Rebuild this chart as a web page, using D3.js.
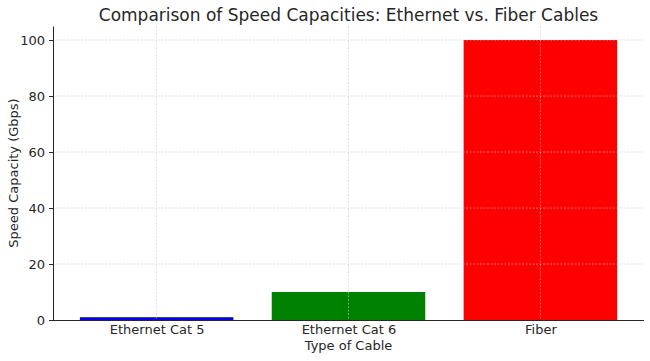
<!DOCTYPE html>
<html>

<head>
    <meta charset="utf-8">
    <title>Comparison of Speed Capacities</title>
    <style>
        body { margin: 0; background: #fff; }
        text { font-family: "DejaVu Sans", sans-serif; fill: #262626; }
        .grid line { stroke: #c8c8c8; stroke-width: 0.7; stroke-dasharray: 2,1.5; opacity: 0.8; }
        .axis path, .axis line { stroke: #262626; }
    </style>
    <script src="https://cdn.jsdelivr.net/npm/d3@7"></script>
</head>

<body>
    <script>
        // chart data
        var categories = ["Ethernet Cat 5", "Ethernet Cat 6", "Fiber"];
        var speeds = [1, 10, 100];
        var colors = ["blue", "green", "red"];
        var yTicks = [0, 20, 40, 60, 80, 100];

        var margin = { top: 26, right: 6, bottom: 41, left: 53 },
            width = 650 - margin.left - margin.right,
            height = 361 - margin.top - margin.bottom;

        var svg = d3.select("body").append("svg")
            .attr("width", 650)
            .attr("height", 361);

        var g = svg.append("g")
            .attr("transform", "translate(" + margin.left + "," + margin.top + ")");

        // x: bar centers at 0,1,2 with width 0.8, matplotlib style margins
        var x = d3.scaleLinear()
            .domain([-0.54, 2.54])
            .range([0, width]);
        var y = d3.scaleLinear()
            .domain([0, 105])
            .range([height, 0]);

        // bars
        g.selectAll(".bar")
            .data(speeds)
            .enter().append("rect")
            .attr("class", "bar")
            .attr("x", function(d, i) { return x(i - 0.4); })
            .attr("width", x(0.4) - x(-0.4))
            .attr("y", function(d) { return y(d); })
            .attr("height", function(d) { return height - y(d); })
            .attr("fill", function(d, i) { return colors[i]; });

        // grid drawn over the bars
        var grid = g.append("g").attr("class", "grid");
        grid.selectAll(".gy")
            .data(yTicks.slice(1))
            .enter().append("line")
            .attr("x1", 0).attr("x2", width)
            .attr("y1", function(d) { return y(d); })
            .attr("y2", function(d) { return y(d); });
        grid.selectAll(".gx")
            .data(categories)
            .enter().append("line")
            .attr("x1", function(d, i) { return x(i); })
            .attr("x2", function(d, i) { return x(i); })
            .attr("y1", 0).attr("y2", height);

        // axes
        var xAxis = g.append("g")
            .attr("class", "axis")
            .attr("transform", "translate(0," + height + ")")
            .call(d3.axisBottom(x).tickValues([0, 1, 2])
                .tickFormat(function(d) { return categories[d]; })
                .tickSize(0).tickPadding(5));
        xAxis.select(".domain").attr("d", "M0,0.5H" + width);
        xAxis.selectAll("text").attr("font-size", 13).attr("font-family", null);

        var yAxis = g.append("g")
            .attr("class", "axis")
            .call(d3.axisLeft(y).tickValues(yTicks).tickSize(4).tickPadding(4).tickSizeOuter(0));
        yAxis.selectAll("text").attr("font-size", 13).attr("font-family", null);

        // labels
        svg.append("text")
            .attr("x", margin.left + width / 2)
            .attr("y", 21)
            .attr("text-anchor", "middle")
            .attr("font-size", 17)
            .text("Comparison of Speed Capacities: Ethernet vs. Fiber Cables");

        svg.append("text")
            .attr("x", margin.left + width / 2)
            .attr("y", 350)
            .attr("text-anchor", "middle")
            .attr("font-size", 13)
            .text("Type of Cable");

        svg.append("text")
            .attr("transform", "translate(18," + (margin.top + height / 2) + ") rotate(-90)")
            .attr("text-anchor", "middle")
            .attr("font-size", 13)
            .text("Speed Capacity (Gbps)");
    </script>
</body>

</html>
